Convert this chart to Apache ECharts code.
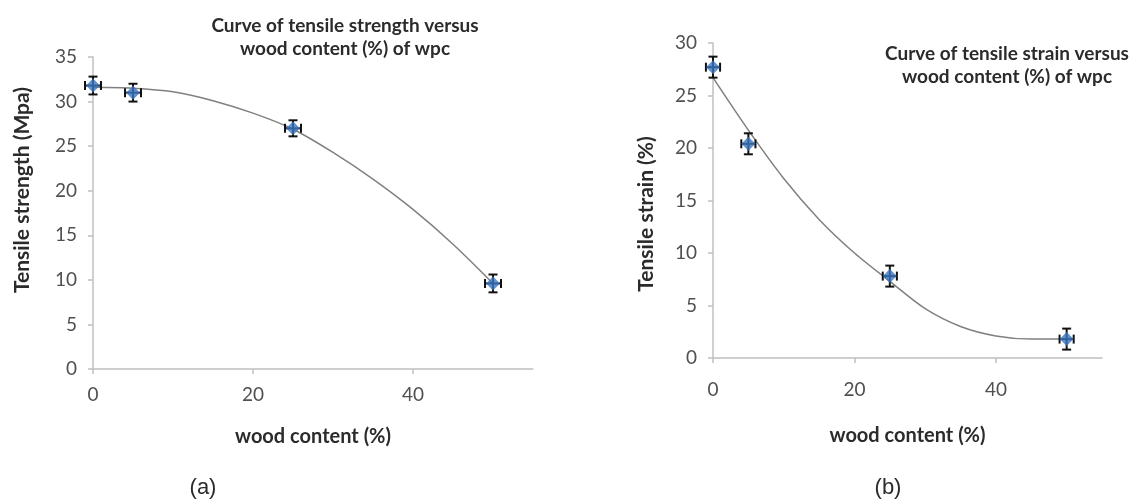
<!DOCTYPE html>
<html>
<head>
<meta charset="utf-8">
<script src="https://cdn.jsdelivr.net/npm/echarts@6/dist/echarts.min.js"></script>
<style>
  html, body { margin: 0; padding: 0; background: #ffffff; }
  #chart { width: 1131px; height: 500px; }
</style>
</head>
<body>
<div id="chart"></div>
<script>
// ---- data ----
const woodContent = [0, 5, 25, 50];
const strengthValues = [31.8, 31.0, 27.0, 9.6];
const strengthErr = [1.0, 1.0, 0.9, 1.0];
const strainValues = [27.7, 20.4, 7.8, 1.8];
const strainErr = [1.0, 1.0, 1.0, 1.0];
const woodErr = [1.0, 1.0, 1.0, 1.0];

const trendX = [0, 5, 10, 15, 20, 25, 30, 35, 40, 45, 50];
const strengthTrend = [31.6, 31.5, 31.1, 30.1, 28.7, 26.9, 24.3, 21.3, 17.9, 14.0, 9.6];
const strainTrend = [26.7, 21.7, 17.1, 13.2, 10.0, 7.3, 4.7, 3.0, 2.1, 1.8, 1.8];

const xTickValues = [0, 20, 40];
const strengthTicks = [0, 35, 5];  // min, max, step
const strainTicks = [0, 30, 5];

const titleA = ['Curve of tensile strength versus', 'wood content (%) of wpc'];
const titleB = ['Curve of tensile strain versus', 'wood content (%) of wpc'];
const xName = 'wood content (%)';
const yNameA = 'Tensile strength (Mpa)';
const yNameB = 'Tensile strain (%)';
const panelA = '(a)';
const panelB = '(b)';

// ---- build ----
const FONT = 'Lato';
const BLUE = '#3b77c2';
const AXIS = '#c0c0c0';
const LABEL = '#505050';
const DARK = '#2b2b2b';

function pairs(xs, ys) { return xs.map((x, i) => [x, ys[i]]); }
function errData(xs, ys, ex, ey) { return xs.map((x, i) => [x, ys[i], ex[i], ey[i]]); }

function errorRender(params, api) {
  const x = api.value(0), y = api.value(1), ex = api.value(2), ey = api.value(3);
  const top = api.coord([x, y + ey]);
  const bot = api.coord([x, y - ey]);
  const lft = api.coord([x - ex, y]);
  const rgt = api.coord([x + ex, y]);
  const c = 4.5;
  const st = { stroke: '#111', lineWidth: 2 };
  return {
    type: 'group',
    children: [
      { type: 'line', shape: { x1: top[0], y1: top[1], x2: bot[0], y2: bot[1] }, style: st },
      { type: 'line', shape: { x1: top[0] - c, y1: top[1], x2: top[0] + c, y2: top[1] }, style: st },
      { type: 'line', shape: { x1: bot[0] - c, y1: bot[1], x2: bot[0] + c, y2: bot[1] }, style: st },
      { type: 'line', shape: { x1: lft[0], y1: lft[1], x2: rgt[0], y2: rgt[1] }, style: st },
      { type: 'line', shape: { x1: lft[0], y1: lft[1] - c, x2: lft[0], y2: lft[1] + c }, style: st },
      { type: 'line', shape: { x1: rgt[0], y1: rgt[1] - c, x2: rgt[0], y2: rgt[1] + c }, style: st }
    ]
  };
}

function xAxisCfg(gridIndex, gap, labelMargin) {
  return {
    type: 'value', gridIndex, min: 0, max: 55, interval: 20,
    name: xName, nameLocation: 'middle', nameGap: gap,
    nameTextStyle: { fontFamily: FONT, fontWeight: 'bold', fontSize: 20, color: DARK },
    axisLine: { show: true, onZero: false, lineStyle: { color: AXIS, width: 1.5 } },
    axisTick: { show: true, inside: false, length: 5, customValues: xTickValues, lineStyle: { color: AXIS, width: 1.5 } },
    axisLabel: { customValues: xTickValues, margin: labelMargin, fontFamily: FONT, fontSize: 19, color: LABEL },
    splitLine: { show: false }
  };
}
function yAxisCfg(gridIndex, t) {
  return {
    type: 'value', gridIndex, min: t[0], max: t[1], interval: t[2],
    axisLine: { show: true, onZero: false, lineStyle: { color: AXIS, width: 1.5 } },
    axisTick: { show: true, inside: false, length: 5, lineStyle: { color: AXIS, width: 1.5 } },
    axisLabel: { margin: 16, fontFamily: FONT, fontSize: 19, color: LABEL },
    splitLine: { show: false }
  };
}

const chart = echarts.init(document.getElementById('chart'), null, { renderer: 'canvas' });
chart.setOption({
  backgroundColor: '#ffffff',
  animation: false,
  title: [
    { text: titleA.join('\n'), left: 340, top: 9, textAlign: 'center',
      textStyle: { fontFamily: FONT, fontWeight: 'bold', fontSize: 19, color: DARK, lineHeight: 23, align: 'center' } },
    { text: titleB.join('\n'), left: 1002, top: 37, textAlign: 'center',
      textStyle: { fontFamily: FONT, fontWeight: 'bold', fontSize: 19, color: DARK, lineHeight: 23, align: 'center' } },
    { text: panelA, left: 198, top: 472, textAlign: 'center',
      textStyle: { fontFamily: 'Liberation Sans', fontWeight: 'normal', fontSize: 22, color: DARK } },
    { text: panelB, left: 883, top: 472, textAlign: 'center',
      textStyle: { fontFamily: 'Liberation Sans', fontWeight: 'normal', fontSize: 22, color: DARK } }
  ],
  graphic: [
    { type: 'text', x: 22, y: 190, rotation: Math.PI / 2,
      style: { text: yNameA, fontFamily: FONT, fontWeight: 'bold', fontSize: 21, fill: DARK, align: 'center', verticalAlign: 'middle' } },
    { type: 'text', x: 646, y: 214, rotation: Math.PI / 2,
      style: { text: yNameB, fontFamily: FONT, fontWeight: 'bold', fontSize: 21, fill: DARK, align: 'center', verticalAlign: 'middle' } }
  ],
  grid: [
    { left: 93, top: 57, width: 440, height: 312, containLabel: false },
    { left: 713, top: 43, width: 389, height: 315, containLabel: false }
  ],
  xAxis: [xAxisCfg(0, 58, 16), xAxisCfg(1, 68, 22)],
  yAxis: [yAxisCfg(0, strengthTicks), yAxisCfg(1, strainTicks)],
  series: [
    { type: 'line', xAxisIndex: 0, yAxisIndex: 0, data: pairs(trendX, strengthTrend),
      smooth: 0.3, symbol: 'none', lineStyle: { color: '#808080', width: 1.5 }, z: 1 },
    { type: 'custom', xAxisIndex: 0, yAxisIndex: 0, renderItem: errorRender,
      data: errData(woodContent, strengthValues, woodErr, strengthErr), z: 2 },
    { type: 'scatter', xAxisIndex: 0, yAxisIndex: 0, data: pairs(woodContent, strengthValues),
      symbol: 'diamond', symbolSize: 14, itemStyle: { color: BLUE }, z: 3 },

    { type: 'line', xAxisIndex: 1, yAxisIndex: 1, data: pairs(trendX, strainTrend),
      smooth: 0.3, symbol: 'none', lineStyle: { color: '#808080', width: 1.5 }, z: 1 },
    { type: 'custom', xAxisIndex: 1, yAxisIndex: 1, renderItem: errorRender,
      data: errData(woodContent, strainValues, woodErr, strainErr), z: 2 },
    { type: 'scatter', xAxisIndex: 1, yAxisIndex: 1, data: pairs(woodContent, strainValues),
      symbol: 'diamond', symbolSize: 14, itemStyle: { color: BLUE }, z: 3 }
  ]
});
</script>
</body>
</html>
